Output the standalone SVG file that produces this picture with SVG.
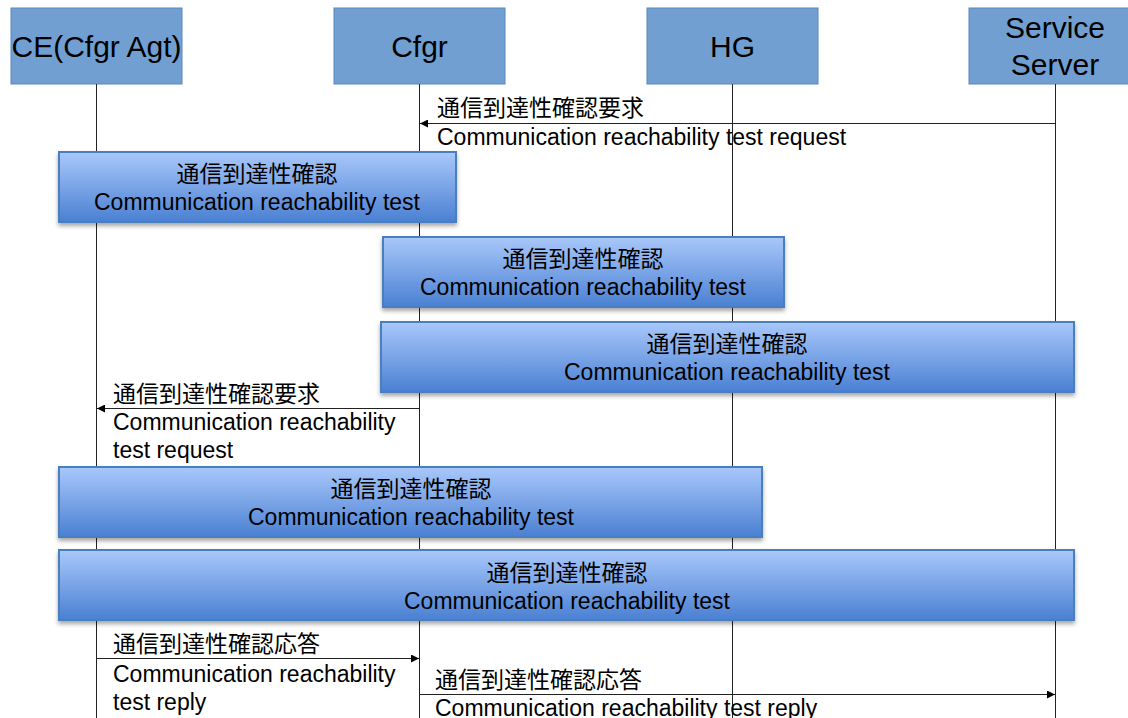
<svg xmlns="http://www.w3.org/2000/svg" width="1128" height="718" viewBox="0 0 1128 718">
  <defs>
    <linearGradient id="barFill" x1="0" y1="0" x2="0" y2="1">
      <stop offset="0" stop-color="#a9c8fb"/>
      <stop offset="1" stop-color="#4a80d2"/>
    </linearGradient>
    <filter id="shadow" x="-5%" y="-20%" width="110%" height="150%">
      <feDropShadow dx="0" dy="3" stdDeviation="2" flood-color="#000" flood-opacity="0.35"/>
    </filter>
    <marker id="arrow" viewBox="0 0 10 10" refX="10" refY="5" markerWidth="10" markerHeight="8" markerUnits="userSpaceOnUse" orient="auto">
      <path d="M0,0 L10,5 L0,10 z" fill="#000"/>
    </marker>
  </defs>
  <style>
    .head { fill: #719fd1; stroke: #5b88bf; stroke-width: 1; }
    .headText { font-family: "Liberation Sans", Arial, sans-serif; font-size: 30px; fill: #000; text-anchor: middle; }
    .life { stroke: #222; stroke-width: 1; fill: none; }
    .bar { fill: url(#barFill); stroke: #4a7ebf; stroke-width: 2; filter: url(#shadow); }
    .barText { font-family: "Liberation Sans", "Noto Sans CJK JP", sans-serif; font-size: 23px; fill: #000; text-anchor: middle; }
    .msg { stroke: #222; stroke-width: 1; fill: none; marker-end: url(#arrow); }
    .msgText { font-family: "Liberation Sans", "Noto Sans CJK JP", sans-serif; font-size: 23px; fill: #000; }
  </style>

  <rect width="1128" height="718" fill="#fff"/>

  <!-- participants -->
  <g id="ce">
    <rect class="head" x="11" y="8" width="171" height="76"/>
    <text class="headText" x="96.5" y="57">CE(Cfgr Agt)</text>
  </g>
  <g id="cfgr">
    <rect class="head" x="334" y="8" width="171" height="76"/>
    <text class="headText" x="419.5" y="57">Cfgr</text>
  </g>
  <g id="hg">
    <rect class="head" x="647" y="8" width="171" height="76"/>
    <text class="headText" x="732.5" y="57">HG</text>
  </g>
  <g id="service-server">
    <rect class="head" x="969" y="8" width="171" height="76"/>
    <text class="headText" x="1055" y="38">Service</text>
    <text class="headText" x="1055" y="75">Server</text>
  </g>

  <!-- lifelines -->
  <g id="lifelines">
    <line class="life" x1="96.5" y1="84" x2="96.5" y2="718"/>
    <line class="life" x1="419.5" y1="84" x2="419.5" y2="718"/>
    <line class="life" x1="732.5" y1="84" x2="732.5" y2="718"/>
    <line class="life" x1="1055.5" y1="84" x2="1055.5" y2="718"/>
  </g>

  <!-- activity bars -->
  <g id="test-1">
    <rect class="bar" x="59" y="152" width="397" height="70"/>
    <text class="barText" x="257" y="182">通信到達性確認</text>
    <text class="barText" x="257" y="210">Communication reachability test</text>
  </g>
  <g id="test-2">
    <rect class="bar" x="383" y="237" width="401" height="70"/>
    <text class="barText" x="583" y="267">通信到達性確認</text>
    <text class="barText" x="583" y="295">Communication reachability test</text>
  </g>
  <g id="test-3">
    <rect class="bar" x="381" y="322" width="693" height="70"/>
    <text class="barText" x="727" y="352">通信到達性確認</text>
    <text class="barText" x="727" y="380">Communication reachability test</text>
  </g>
  <g id="test-4">
    <rect class="bar" x="59" y="467" width="703" height="70"/>
    <text class="barText" x="411" y="497">通信到達性確認</text>
    <text class="barText" x="411" y="525">Communication reachability test</text>
  </g>
  <g id="test-5">
    <rect class="bar" x="59" y="550" width="1015" height="70"/>
    <text class="barText" x="567" y="581">通信到達性確認</text>
    <text class="barText" x="567" y="609">Communication reachability test</text>
  </g>

  <!-- messages -->
  <g id="connectors">
    <line class="msg" x1="1055.5" y1="123.5" x2="420" y2="123.5"/>
    <line class="msg" x1="419.5" y1="408.5" x2="97" y2="408.5"/>
    <line class="msg" x1="96.5" y1="658.5" x2="419" y2="658.5"/>
    <line class="msg" x1="419.5" y1="694.5" x2="1055" y2="694.5"/>
  </g>

  <g id="message-labels">
    <text class="msgText" x="437" y="116">通信到達性確認要求</text>
    <text class="msgText" x="437" y="145">Communication reachability test request</text>

    <text class="msgText" x="113" y="402">通信到達性確認要求</text>
    <text class="msgText" x="113" y="430">Communication reachability</text>
    <text class="msgText" x="113" y="458">test request</text>

    <text class="msgText" x="113" y="652">通信到達性確認応答</text>
    <text class="msgText" x="113" y="682">Communication reachability</text>
    <text class="msgText" x="113" y="710">test reply</text>

    <text class="msgText" x="435" y="688">通信到達性確認応答</text>
    <text class="msgText" x="435" y="716">Communication reachability test reply</text>
  </g>
</svg>
